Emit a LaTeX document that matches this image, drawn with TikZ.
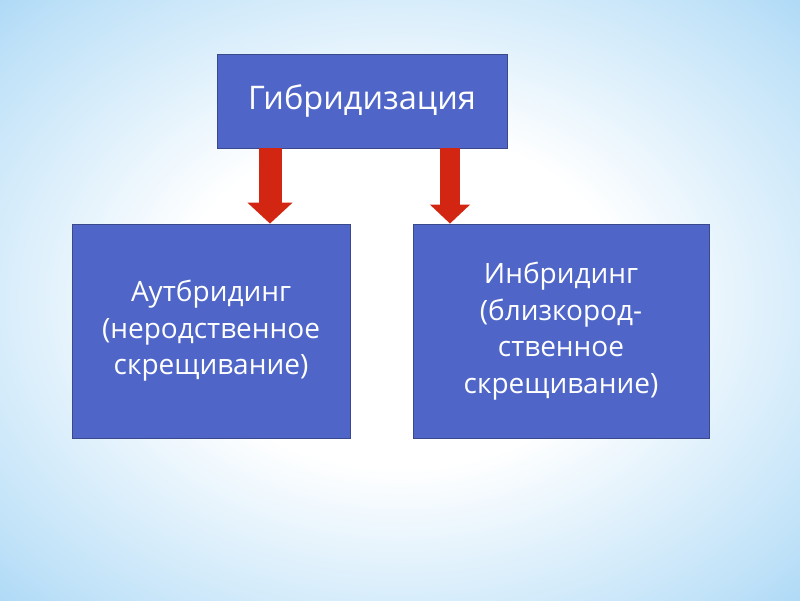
\documentclass[tikz,border=0pt]{standalone}
\usepackage{fontspec}
\setmainfont{Open Sans}
\usetikzlibrary{arrows.meta,shapes,backgrounds,positioning,calc}

\definecolor{boxblue}{RGB}{79,102,200}
\definecolor{boxline}{RGB}{58,72,140}
\definecolor{arrowred}{RGB}{210,38,18}
\definecolor{bgmid}{RGB}{190,225,248}
\definecolor{bgedge}{RGB}{120,190,240}
\pgfdeclareradialshading{slidebg}{\pgfpoint{0bp}{0bp}}{%
  color(0bp)=(white); color(14bp)=(white); color(32bp)=(bgmid);
  color(48bp)=(bgedge); color(75bp)=(bgedge)}

\tikzset{
  bluebox/.style={draw=boxline, line width=.8pt, fill=boxblue, text=white,
    inner sep=0pt, align=center},
  redarrow/.style={draw=arrowred, -{Triangle[width=44pt,length=21pt]}}
}

\begin{document}
\begin{tikzpicture}[x=1pt,y=-1pt]
    \useasboundingbox (0,0) rectangle (800,600);
    \shade[shading=slidebg] (0,0) rectangle (800,600);

    \node[bluebox, minimum width=290pt, minimum height=94pt, font=\fontsize{32.5}{38}\selectfont]
      (hyb) at (362,101) {Гибридизация};
    \node[bluebox, minimum width=278pt, minimum height=214pt, font=\fontsize{28}{36.5}\selectfont]
      (out) at (211,331) {Аутбридинг\\(неродственное\\скрещивание)};
    \node[bluebox, minimum width=296pt, minimum height=214pt, font=\fontsize{28}{36.5}\selectfont]
      (inb) at (561,331) {Инбридинг\\(близкород-\\ственное\\скрещивание)};

    \draw[redarrow, line width=23pt] ([xshift=59pt]out.north |- hyb.south) -- ([xshift=59pt]out.north);
    \draw[redarrow, line width=20pt, -{Triangle[width=39pt,length=19pt]}]
      ([xshift=-111pt]inb.north |- hyb.south) -- ([xshift=-111pt]inb.north);
  \end{tikzpicture}
\end{document}
